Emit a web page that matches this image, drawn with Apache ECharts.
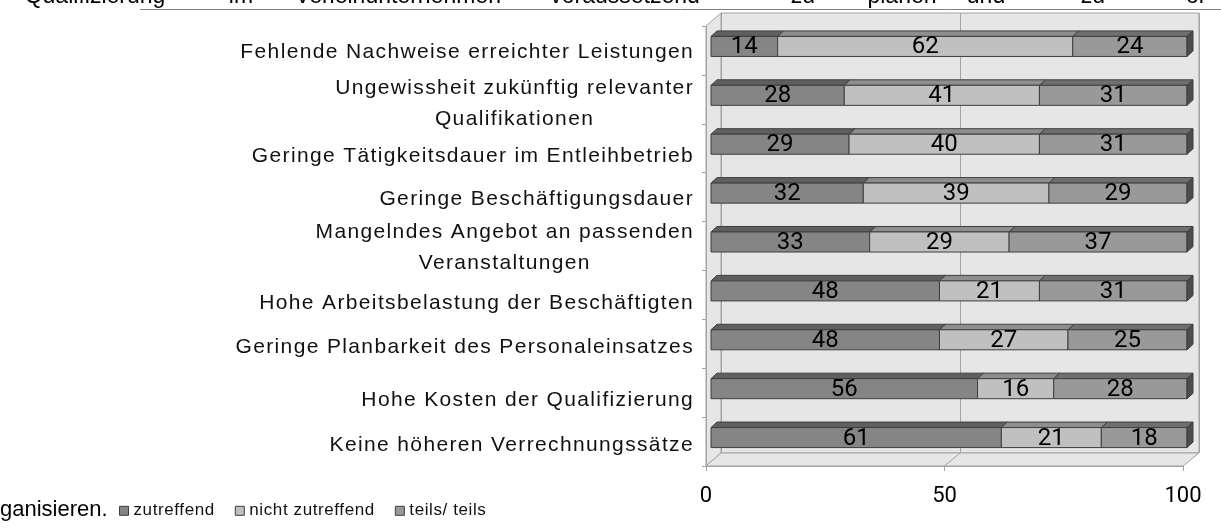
<!DOCTYPE html>
<html><head><meta charset="utf-8">
<script src="https://cdn.jsdelivr.net/npm/echarts@6/dist/echarts.min.js"></script>
<style>html,body{margin:0;padding:0;background:#fff}#c{width:1221px;height:532px}</style>
</head><body><div id="c"></div>
<script>
// ---------- data ----------
const categories = [
  'Fehlende Nachweise erreichter Leistungen',
  'Ungewissheit zukünftig relevanter\nQualifikationen',
  'Geringe Tätigkeitsdauer im Entleihbetrieb',
  'Geringe Beschäftigungsdauer',
  'Mangelndes Angebot an passenden\nVeranstaltungen',
  'Hohe Arbeitsbelastung der Beschäftigten',
  'Geringe Planbarkeit des Personaleinsatzes',
  'Hohe Kosten der Qualifizierung',
  'Keine höheren Verrechnungssätze'
];
const zutreffend      = [14, 28, 29, 32, 33, 48, 48, 56, 61];
const nichtZutreffend = [62, 41, 40, 39, 29, 21, 27, 16, 21];
const teilsTeils      = [24, 31, 31, 29, 37, 31, 25, 28, 18];
const seriesNames = ['zutreffend', 'nicht zutreffend', 'teils/ teils'];
const xTickValues = [0, 50, 100];
const headerWords = ['Qualifizierung', 'im', 'Verleihunternehmen', 'voraussetzend', 'zu', 'planen', 'und', 'zu', 'or-'];
const footerText = 'ganisieren.';

// ---------- text letter spacing (rendering style only) ----------
(function () {
  const P = CanvasRenderingContext2D.prototype;
  if (!('letterSpacing' in P)) return;
  function ls(ctx) {
    const m = /(\d+(?:\.\d+)?)px\s+"?Liberation Sans/.exec(ctx.font || '');
    if (m) { const s = parseFloat(m[1]); ctx.letterSpacing = (s >= 18 ? s * 0.065 : s * 0.035).toFixed(2) + 'px'; }
    else ctx.letterSpacing = '0px';
  }
  const ft = P.fillText, st = P.strokeText, mt = P.measureText;
  P.fillText = function () { ls(this); return ft.apply(this, arguments); };
  P.strokeText = function () { ls(this); return st.apply(this, arguments); };
  P.measureText = function () { ls(this); return mt.apply(this, arguments); };
})();

// ---------- layout / style ----------
const W = 1221, H = 532;
const FRONT = { x0: 706, x1: 1183, y0: 26, y1: 466 };
const BACK  = { x0: 721, x1: 1199, y0: 13, y1: 453 };
const BARS  = { x0: 711, x1: 1187, y0: 22, y1: 462 };
const DEPTH = { dx: 6, dy: 5.5 };
const BAR_RATIO = 0.41;
const frontColors = ['#858585', '#c0c0c0', '#999999'];
const topColors   = ['#5f5f5f', '#8e8e8e', '#6f6f6f'];
const sideColor = '#4d4d4d';
const edgeColor = '#3f3f3f';
const wallColor = '#e6e6e6';
const lineColor = '#a3a3a3';
const labelShift = [2, 4, 8, 2, 2, 8, 3, 8, 4];
const headerX = [95, 241, 398, 625, 803, 902, 986, 1093, 1200];

const seriesValues = [zutreffend, nichtZutreffend, teilsTeils];
const totals = categories.map((_, i) => seriesValues.reduce((a, arr) => a + arr[i], 0));
function stackData(k) {
  return categories.map((_, i) => {
    let before = 0;
    for (let j = 0; j < k; j++) before += seriesValues[j][i];
    const t = totals[i];
    return [before / t * 100, (before + seriesValues[k][i]) / t * 100, i, seriesValues[k][i]];
  });
}
function makeRender(k) {
  return function (params, api) {
    const p0 = api.coord([api.value(0), api.value(2)]);
    const p1 = api.coord([api.value(1), api.value(2)]);
    const h = api.size([0, 1])[1] * BAR_RATIO;
    const x0 = p0[0], x1 = p1[0], cy = p0[1];
    const t = cy - h / 2, b = cy + h / 2;
    const dx = DEPTH.dx, dy = DEPTH.dy;
    const children = [
      { type: 'polygon', shape: { points: [[x0, t], [x1, t], [x1 + dx, t - dy], [x0 + dx, t - dy]] },
        style: { fill: topColors[k], stroke: edgeColor, lineWidth: 1 } },
      { type: 'rect', shape: { x: x0, y: t, width: x1 - x0, height: h },
        style: { fill: frontColors[k], stroke: edgeColor, lineWidth: 1 } }
    ];
    if (k === seriesValues.length - 1) {
      children.push({ type: 'polygon', shape: { points: [[x1, t], [x1 + dx, t - dy], [x1 + dx, b - dy], [x1, b]] },
        style: { fill: sideColor, stroke: edgeColor, lineWidth: 1 } });
    }
    children.push({ type: 'text', style: { text: String(api.value(3)), x: (x0 + x1) / 2, y: cy + 1,
      align: 'center', verticalAlign: 'middle', fontFamily: 'Roboto', fontSize: 24, fill: '#000' } });
    return { type: 'group', children };
  };
}

const chart = echarts.init(document.getElementById('c'), null, { renderer: 'canvas' });
const mid = (o) => (o.x0 + o.x1) / 2;

const graphic = [
  { type: 'polygon', z: 0, shape: { points: [[FRONT.x0, FRONT.y0], [BACK.x0, BACK.y0], [BACK.x0, BACK.y1], [FRONT.x0, FRONT.y1]] },
    style: { fill: wallColor, stroke: lineColor, lineWidth: 1 } },
  { type: 'polygon', z: 0, shape: { points: [[FRONT.x0, FRONT.y1], [FRONT.x1, FRONT.y1], [BACK.x1, BACK.y1], [BACK.x0, BACK.y1]] },
    style: { fill: wallColor, stroke: lineColor, lineWidth: 1 } },
  { type: 'line', z: 1, shape: { x1: mid(FRONT), y1: FRONT.y1, x2: mid(BACK), y2: BACK.y1 }, style: { stroke: lineColor, lineWidth: 1 } },
  { type: 'line', z: 1, shape: { x1: 140, y1: 9.5, x2: W, y2: 9.5 }, style: { stroke: '#808080', lineWidth: 1 } },
  { type: 'text', z: 1, style: { text: footerText, x: 0, y: 509.5, align: 'left', verticalAlign: 'middle',
      fontFamily: 'Arial', fontSize: 22, fill: '#000' } }
].concat(headerWords.map((w, i) => ({
  type: 'text', z: 1, style: { text: w, x: headerX[i], y: -3, align: 'center', verticalAlign: 'middle',
    fontFamily: 'Arial', fontSize: 23, fill: '#000' }
})));

const option = {
  animation: false,
  backgroundColor: '#fff',
  grid: [
    { left: FRONT.x0, width: FRONT.x1 - FRONT.x0, top: FRONT.y0, height: FRONT.y1 - FRONT.y0 },
    { left: BARS.x0, width: BARS.x1 - BARS.x0, top: BARS.y0, height: BARS.y1 - BARS.y0 },
    { left: BACK.x0, width: BACK.x1 - BACK.x0, top: BACK.y0, height: BACK.y1 - BACK.y0,
      show: true, backgroundColor: wallColor, borderColor: lineColor, borderWidth: 1 }
  ],
  xAxis: [
    { gridIndex: 0, type: 'value', min: xTickValues[0], max: xTickValues[xTickValues.length - 1], interval: xTickValues[1] - xTickValues[0],
      axisLine: { show: true, lineStyle: { color: lineColor } },
      axisTick: { show: true, length: 5, lineStyle: { color: lineColor } },
      axisLabel: { fontFamily: 'Roboto', fontSize: 22, color: '#000', margin: 19 },
      splitLine: { show: false } },
    { gridIndex: 1, type: 'value', min: 0, max: 100, show: false },
    { gridIndex: 2, type: 'value', min: 0, max: 100, interval: 50,
      axisLine: { show: false }, axisTick: { show: false }, axisLabel: { show: false },
      splitLine: { show: true, lineStyle: { color: lineColor, width: 1 } } }
  ],
  yAxis: [
    { gridIndex: 0, type: 'category', inverse: true,
      data: categories.map((c, i) => ({ value: c, textStyle: { padding: [2 * labelShift[i], 0, 0, 0] } })),
      axisLine: { show: true, lineStyle: { color: lineColor } },
      axisTick: { show: true, length: 4, lineStyle: { color: lineColor } },
      axisLabel: {
        fontFamily: 'Liberation Sans', fontSize: 21, color: '#111', margin: 12,
        formatter: (v) => v.indexOf('\n') < 0 ? v : v.split('\n').map(l => '{c|' + l + '}').join('\n'),
        rich: { c: { align: 'center', fontFamily: 'Liberation Sans', fontSize: 21, lineHeight: 31, color: '#111' } }
      },
      splitLine: { show: false } },
    { gridIndex: 1, type: 'category', inverse: true, data: categories, show: false },
    { gridIndex: 2, type: 'value', show: false }
  ],
  legend: {
    left: 119, top: 502, padding: 0, itemWidth: 9, itemHeight: 9, itemGap: 20, icon: 'rect',
    data: seriesNames,
    textStyle: { fontFamily: 'Liberation Sans', fontSize: 17, color: '#111' },
    itemStyle: { borderColor: edgeColor, borderWidth: 1 }
  },
  graphic: graphic,
  series: seriesNames.map((name, k) => ({
    name, type: 'custom', xAxisIndex: 1, yAxisIndex: 1, z: 10,
    itemStyle: { color: frontColors[k] },
    encode: { x: [0, 1], y: 2 },
    data: stackData(k),
    renderItem: makeRender(k)
  }))
};
chart.setOption(option);
</script></body></html>
